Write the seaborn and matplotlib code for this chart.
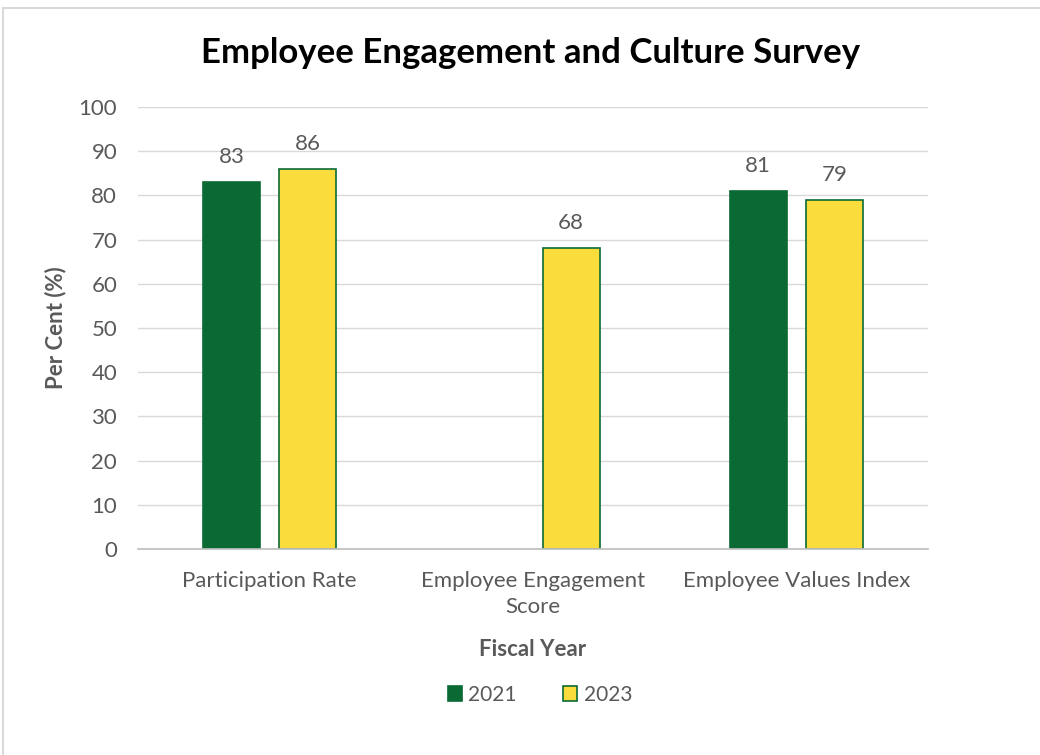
import numpy as np
import pandas as pd
import matplotlib
matplotlib.use("Agg")
import matplotlib.pyplot as plt
import seaborn as sns
from matplotlib.patches import Rectangle

# chart values
categories = ["Participation Rate", "Employee Engagement\nScore", "Employee Values Index"]
years = ["2021", "2023"]
values_2021 = [83, np.nan, 81]
values_2023 = [86, 68, 79]
y_ticks = list(range(0, 101, 10))

green = "#0B6A34"
yellow = "#FADC3C"
text_gray = "#595959"

df = pd.DataFrame({
    "category": categories * 2,
    "year": [years[0]] * 3 + [years[1]] * 3,
    "value": values_2021 + values_2023,
})

sns.set_theme(style="white")
plt.rcParams['font.family'] = ['Lato', 'DejaVu Sans']

fig = plt.figure(figsize=(10.4, 7.55), dpi=100)
ax = fig.add_axes([0.1327, 0.2728, 0.7596, 0.5855])

sns.barplot(data=df, x="category", y="value", hue="year", order=categories,
            hue_order=years, palette=[green, yellow], saturation=1,
            width=0.578, gap=0.25, edgecolor=green, linewidth=1.2, ax=ax, legend=True)

for cont in ax.containers:
    labels = ["" if np.isnan(v) else f"{v:.0f}" for v in cont.datavalues]
    ax.bar_label(cont, labels=labels, padding=11, fontsize=16, color=text_gray)

ax.set_ylim(0, 100)
ax.set_xlim(-0.5, 2.5)
ax.set_yticks(y_ticks)
ax.tick_params(axis="y", labelsize=16, labelcolor=text_gray, length=0, pad=15)
ax.tick_params(axis="x", labelsize=16, labelcolor=text_gray, length=0, pad=16)
for lbl in ax.get_xticklabels():
    lbl.set_linespacing(1.35)
ax.yaxis.grid(True, color="#D9D9D9", linewidth=1)
ax.set_axisbelow(True)
for side in ["top", "right", "left"]:
    ax.spines[side].set_visible(False)
ax.spines["bottom"].set_color("#BFBFBF")

ax.set_ylabel("Per Cent (%)", fontsize=16, fontweight="bold", color=text_gray, labelpad=9)
ax.set_xlabel("Fiscal Year", fontsize=16, fontweight="bold", color=text_gray, labelpad=16)

fig.text(0.51, 0.93, "Employee Engagement and Culture Survey", ha="center", va="center",
         fontsize=25, fontweight="bold", color="black")

handles, labs = ax.get_legend_handles_labels()
ax.legend(handles, labs, loc="center", bbox_to_anchor=(0.519, 0.0795),
          bbox_transform=fig.transFigure, ncol=2, frameon=False, fontsize=15,
          handlelength=0.7, handleheight=0.7, columnspacing=2.2, handletextpad=0.3,
          labelcolor=text_gray)

# light outer frame of the chart area
fig.patches.append(Rectangle((0.003, -0.05), 1.2, 1.04, transform=fig.transFigure,
                             fill=False, edgecolor="#D9D9D9", linewidth=1.5))

fig.savefig("out.png", dpi=100)
